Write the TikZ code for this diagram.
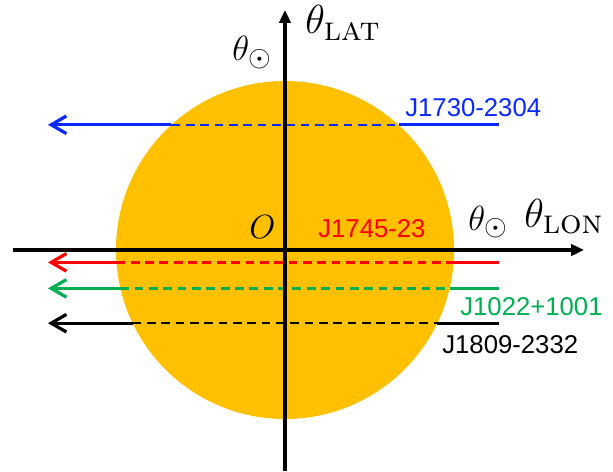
\documentclass[tikz,border=0pt]{standalone}
\usepackage{amsmath}
\usepackage{graphicx}
\usepackage{fontspec}
\newfontfamily\labelfont{Liberation Sans}
\usetikzlibrary{arrows.meta}
\definecolor{sunfill}{RGB}{255,192,0}
\definecolor{psrblue}{RGB}{10,40,255}
\definecolor{psrred}{RGB}{255,0,0}
\definecolor{psrgreen}{RGB}{0,176,80}
\begin{document}
\begin{tikzpicture}[
  axis/.style={line width=2.3pt, -{Triangle[length=3.2mm, width=2.8mm]}},
  psr/.style={line width=2.3pt},
  psrdash/.style={line width=1.6pt, dash pattern=on 6.2pt off 4pt},
  psrarrow/.style={psr, -{Straight Barb[length=3.8mm, width=4.4mm]}},
  psrlabel/.style={anchor=base west, inner sep=0pt, font=\labelfont\fontsize{18.3}{22}\selectfont},
  mathlabel/.style={anchor=base west, inner sep=0pt, font=\Huge}]
\useasboundingbox (-7.125,-5.525) rectangle (8.2,6.25);
% the Sun
\node[circle, fill=sunfill, inner sep=0pt, minimum size=8.45cm] (sun) at (0,0) {};
% pulsar lines of sight: solid outside, dashed behind the Sun
\coordinate (b0) at (5.35,3.13);
\coordinate (b1) at ({sqrt(4.225^2-3.13^2)},3.13);
\coordinate (b2) at ({-sqrt(4.225^2-3.13^2)},3.13);
\coordinate (b3) at (-5.925,3.13);
\draw[psr, psrblue] (b0) -- (b1);
\draw[psrdash, psrblue] (b2) -- (b1);
\draw[psrarrow, psrblue] (b2) -- (b3);
\coordinate (r0) at (5.35,-0.31);
\coordinate (r1) at ({sqrt(4.225^2-0.31^2)},-0.31);
\coordinate (r2) at ({-sqrt(4.225^2-0.31^2)},-0.31);
\coordinate (r3) at (-5.925,-0.31);
\draw[psr, psrred] (r0) -- (r1);
\draw[psrdash, psrred] (r2) -- (r1);
\draw[psrarrow, psrred] (r2) -- (r3);
\coordinate (g0) at (5.35,-0.96);
\coordinate (g1) at ({sqrt(4.225^2-0.96^2)},-0.96);
\coordinate (g2) at ({-sqrt(4.225^2-0.96^2)},-0.96);
\coordinate (g3) at (-5.925,-0.96);
\draw[psr, psrgreen] (g0) -- (g1);
\draw[psrdash, psrgreen] (g2) -- (g1);
\draw[psrarrow, psrgreen] (g2) -- (g3);
\coordinate (k0) at (5.35,-1.83);
\coordinate (k1) at ({sqrt(4.225^2-1.83^2)},-1.83);
\coordinate (k2) at ({-sqrt(4.225^2-1.83^2)},-1.83);
\coordinate (k3) at (-5.925,-1.83);
\draw[psr, black] (k0) -- (k1);
\draw[psrdash, black] (k2) -- (k1);
\draw[psrarrow, black] (k2) -- (k3);
% axes
\coordinate (lonL) at (-6.8,0);
\coordinate (lonR) at (7.475,0);
\coordinate (latB) at (0,-5.525);
\coordinate (latT) at (0,6.0);
\draw[axis] (lonL) -- (lonR);
\draw[axis] (latB) -- (latT);
% labels
\node[mathlabel] (lat) at (0.5,5.4) {\scalebox{1.16}{$\theta_{\textsc{lat}}$}};
\node[mathlabel] (lon) at (5.975,0.575) {\scalebox{1.16}{$\theta_{\textsc{lon}}$}};
\node[mathlabel] (sunlat) at (-1.325,4.725) {$\theta_{\odot}$};
\node[mathlabel] (sunlon) at (4.575,0.5) {$\theta_{\odot}$};
\node[mathlabel, font=\huge] (origin) at (-0.9,0.3) {\scalebox{1.15}{$O$}};
\node[psrlabel, psrblue] (l1730) at (3.0,3.325) {J1730-2304};
\node[psrlabel, psrred] (l1745) at (0.825,0.325) {J1745-23};
\node[psrlabel, psrgreen] (l1022) at (4.375,-1.625) {J1022+1001};
\node[psrlabel, black] (l1809) at (3.925,-2.575) {J1809-2332};
\end{tikzpicture}
\end{document}
